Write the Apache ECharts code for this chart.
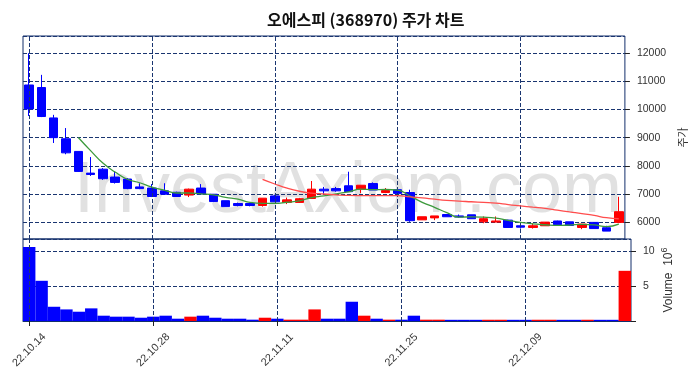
<!DOCTYPE html>
<html>
<head>
<meta charset="utf-8">
<title>오에스피 (368970) 주가 차트</title>
<script src="https://cdn.jsdelivr.net/npm/echarts@6/dist/echarts.min.js"></script>
<style>
  body { margin: 0; padding: 0; background: #fff; }
  #chart { width: 696px; height: 378px; }
</style>
</head>
<body>
<div id="chart"></div>
<script>
// 거래일 (22.10.14 ~ 22.12.21)
var dates = [
  "22.10.14", "22.10.17", "22.10.18", "22.10.19", "22.10.20", "22.10.21", "22.10.24", "22.10.25", "22.10.26", "22.10.27",
  "22.10.28", "22.10.31", "22.11.01", "22.11.02", "22.11.03", "22.11.04", "22.11.07", "22.11.08", "22.11.09", "22.11.10",
  "22.11.11", "22.11.14", "22.11.15", "22.11.16", "22.11.17", "22.11.18", "22.11.21", "22.11.22", "22.11.23", "22.11.24",
  "22.11.25", "22.11.28", "22.11.29", "22.11.30", "22.12.01", "22.12.02", "22.12.05", "22.12.06", "22.12.07", "22.12.08",
  "22.12.09", "22.12.12", "22.12.13", "22.12.14", "22.12.15", "22.12.16", "22.12.19", "22.12.20", "22.12.21"
];
var openPrices = [
  10870, 10780, 9700, 8960, 8510, 7740, 7880, 7600, 7530, 7250,
  7210, 7110, 7060, 6960, 7210, 6990, 6760, 6660, 6660, 6590,
  6930, 6700, 6700, 6840, 7170, 7190, 7290, 7170, 7370, 7050,
  7150, 7050, 6080, 6150, 6270, 6220, 6260, 6010, 6000, 6070,
  5870, 5810, 5870, 6040, 6010, 5810, 5990, 5800, 5990
];
var closePrices = [
  10020, 9750, 9000, 8460, 7800, 7690, 7540, 7410, 7190, 7190,
  6910, 6990, 6910, 7170, 7000, 6730, 6550, 6590, 6590, 6850,
  6720, 6790, 6830, 7170, 7110, 7110, 7080, 7310, 7140, 7120,
  7020, 6050, 6190, 6220, 6190, 6180, 6120, 6120, 6040, 5810,
  5820, 5870, 6000, 5910, 5880, 5930, 5770, 5680, 6370
];
var lowPrices = [
  9770, 9730, 8810, 8410, 7790, 7640, 7500, 7370, 7170, 7170,
  6890, 6970, 6900, 6890, 6990, 6710, 6550, 6560, 6560, 6550,
  6720, 6640, 6690, 6820, 7000, 7080, 7080, 7030, 7140, 7030,
  7020, 6010, 6080, 6070, 6190, 6160, 6120, 5960, 6000, 5810,
  5770, 5770, 5870, 5910, 5880, 5750, 5770, 5680, 5960
];
var highPrices = [
  12000, 11230, 9810, 9340, 8510, 8310, 7920, 7800, 7560, 7380,
  7350, 7380, 7080, 7190, 7350, 6990, 6760, 6690, 6690, 6850,
  6970, 6870, 6860, 7460, 7250, 7250, 7790, 7310, 7410, 7210,
  7150, 7150, 6190, 6220, 6280, 6270, 6260, 6200, 6200, 6080,
  5890, 5960, 6000, 6050, 6010, 5930, 5990, 5870, 6900
];
// 거래량 (단위: 10^6 주)
var volumes = [
  10.6, 5.76, 2.04, 1.66, 1.33, 1.81, 0.76, 0.62, 0.62, 0.47,
  0.62, 0.76, 0.33, 0.62, 0.76, 0.47, 0.33, 0.33, 0.19, 0.47,
  0.33, 0.19, 0.19, 1.66, 0.33, 0.33, 2.76, 0.76, 0.33, 0.19,
  0.19, 0.76, 0.19, 0.19, 0.17, 0.17, 0.17, 0.18, 0.18, 0.17,
  0.17, 0.18, 0.18, 0.17, 0.17, 0.18, 0.17, 0.17, 7.19
];
// 이동평균선
var ma5 = [
  "-", "-", "-", "-", 9006, 8538, 8096, 7778, 7522, 7398,
  7244, 7134, 7034, 7034, 7004, 6968, 6880, 6816, 6698, 6662,
  6662, 6706, 6754, 6872, 6928, 7006, 7072, 7168, 7156, 7158,
  7134, 6926, 6704, 6524, 6336, 6174, 6188, 6174, 6138, 6062,
  5988, 5936, 5906, 5882, 5896, 5920, 5900, 5840, 5930
];
var ma20 = [
  "-", "-", "-", "-", "-", "-", "-", "-", "-", "-",
  "-", "-", "-", "-", "-", "-", "-", "-", "-", 7518,
  7353, 7204, 7096, 7032, 6998, 6970, 6948, 6943, 6940, 6938,
  6943, 6896, 6861, 6813, 6771, 6744, 6723, 6700, 6673, 6621,
  6576, 6531, 6488, 6425, 6363, 6304, 6238, 6156, 6119
];
var xTickIndex = [0, 10, 20, 30, 40];

var UP = "#ff0000", DOWN = "#0000ff";
var FRAME = "#132f6b", GRIDC = "#1a3570";
var FONT = "'Liberation Sans', Arial, sans-serif";

var candleData = [];
var volumeData = [];
for (var i = 0; i < dates.length; i++) {
  candleData.push([openPrices[i], closePrices[i], lowPrices[i], highPrices[i]]);
  volumeData.push({
    value: volumes[i],
    itemStyle: { color: closePrices[i] >= openPrices[i] ? UP : DOWN }
  });
}

// x축 눈금 위치에 세로 점선
function vLines() {
  return {
    silent: true,
    symbol: ["none", "none"],
    label: { show: false },
    emphasis: { disabled: true },
    lineStyle: { color: GRIDC, type: [4, 2], width: 1 },
    data: xTickIndex.map(function(k) { return { xAxis: k }; })
  };
}
function isTick(idx) { return idx % 10 === 0; }

var chart = echarts.init(document.getElementById("chart"));
chart.setOption({
  animation: false,
  backgroundColor: "#fff",
  title: {
    text: "오에스피 (368970) 주가 차트",
    left: 262,
    top: 7,
    textStyle: { fontSize: 16, fontWeight: "bold", color: "#111", fontFamily: "'Noto Sans CJK KR', sans-serif" }
  },
  graphic: [{
    type: "text",
    x: 348,
    y: 192,
    z: -100,
    silent: true,
    style: {
      text: "InvestAxiom.com",
      font: "72px 'Liberation Sans', Arial, sans-serif",
      fill: "#e1e1e1",
      textAlign: "center",
      textVerticalAlign: "middle"
    }
  }],
  grid: [
    { left: 23, right: 65, top: 36, height: 203, show: true, borderColor: FRAME, borderWidth: 1, backgroundColor: "transparent" },
    { left: 23, right: 65, top: 239, height: 82, show: true, borderColor: FRAME, borderWidth: 1, backgroundColor: "transparent" }
  ],
  xAxis: [
    {
      type: "category", gridIndex: 0, data: dates, boundaryGap: true,
      axisLine: { show: false }, axisTick: { show: false }, axisLabel: { show: false }, splitLine: { show: false }
    },
    {
      type: "category", gridIndex: 1, data: dates, boundaryGap: true,
      axisLine: { show: true, lineStyle: { color: FRAME } },
      axisTick: { show: true, alignWithLabel: true, length: 5, interval: isTick, lineStyle: { color: "#222" } },
      axisLabel: {
        interval: isTick, rotate: 45, margin: 29, align: "center", verticalAlign: "middle",
        fontSize: 10.8, color: "#333", fontFamily: FONT
      },
      splitLine: { show: false }
    }
  ],
  yAxis: [
    {
      type: "value", gridIndex: 0, position: "right", min: 5400, max: 12610, scale: true,
      name: "주가", nameLocation: "middle", nameGap: 50, nameRotate: 90,
      nameTextStyle: { fontSize: 11, color: "#333", fontFamily: "'Noto Sans CJK KR', sans-serif" },
      axisLine: { show: false },
      axisTick: { show: true, length: 5, lineStyle: { color: "#222" } },
      axisLabel: {
        margin: 12, fontSize: 10.5, color: "#333", fontFamily: FONT, showMinLabel: false, showMaxLabel: false,
        formatter: function(v) { return v % 1000 === 0 ? String(v) : ""; }
      },
      splitLine: { show: true, lineStyle: { color: GRIDC, type: [4, 2], width: 1 } }
    },
    {
      type: "value", gridIndex: 1, position: "right", min: 0, max: 11.75, interval: 5,
      name: "Volume  10{sup|6}", nameLocation: "middle", nameGap: 29, nameRotate: 90,
      nameMoveOverlap: false,
      nameTextStyle: {
        fontSize: 12, color: "#333", fontFamily: FONT,
        rich: { sup: { fontSize: 9, color: "#333", fontFamily: FONT, verticalAlign: "bottom", padding: [0, 0, 8, 0] } }
      },
      axisLine: { show: false },
      axisTick: { show: true, length: 5, lineStyle: { color: "#222" } },
      axisLabel: {
        margin: 12, fontSize: 10.5, color: "#333", fontFamily: FONT, showMaxLabel: false,
        formatter: function(v) { return (v > 0 && v % 5 === 0) ? String(v) : ""; }
      },
      splitLine: { show: true, lineStyle: { color: GRIDC, type: [4, 2], width: 1 } }
    }
  ],
  series: [
    {
      name: "주가", type: "candlestick", xAxisIndex: 0, yAxisIndex: 0,
      data: candleData, barWidth: 9,
      itemStyle: { color: UP, color0: DOWN, borderColor: UP, borderColor0: DOWN, borderWidth: 1 },
      markLine: vLines()
    },
    {
      name: "MA5", type: "line", xAxisIndex: 0, yAxisIndex: 0, data: ma5,
      smooth: true, showSymbol: false, z: 5,
      lineStyle: { color: "#3c9a3c", width: 1.3 }
    },
    {
      name: "MA20", type: "line", xAxisIndex: 0, yAxisIndex: 0, data: ma20,
      smooth: true, showSymbol: false, z: 5,
      lineStyle: { color: "#ff4d4d", width: 1.3 }
    },
    {
      name: "Volume", type: "bar", xAxisIndex: 1, yAxisIndex: 1,
      data: volumeData, barCategoryGap: "0%",
      markLine: vLines()
    }
  ]
});
</script>
</body>
</html>
